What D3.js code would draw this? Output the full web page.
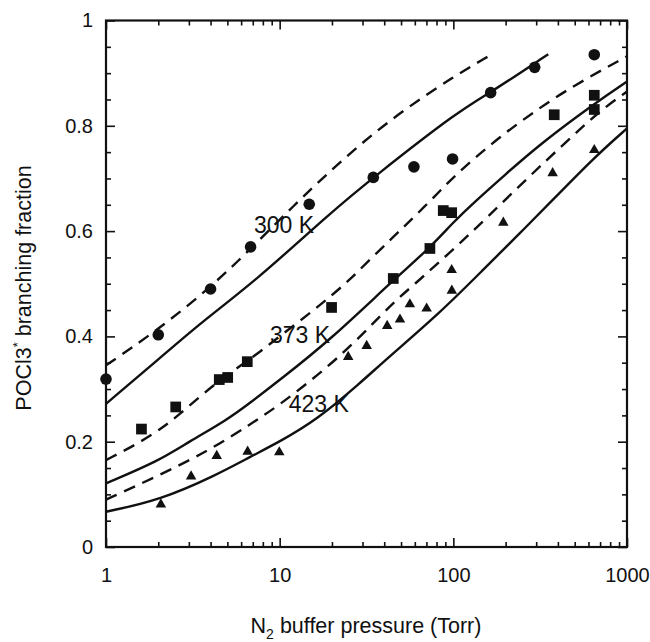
<!DOCTYPE html>
<html>
<head>
<meta charset="utf-8">
<script src="https://cdn.jsdelivr.net/npm/d3@7"></script>
<style>
  body { margin: 0; background: #fff; }
  svg { display: block; font-family: "Liberation Sans", Arial, sans-serif; }
</style>
</head>
<body>
<svg id="chart" width="650" height="642"></svg>
<script>
// measured points, [pressure (Torr), fraction]
const circles300 = [[1, 0.319], [2, 0.403], [4, 0.49], [6.8, 0.570], [14.8, 0.651], [34.6, 0.702],
  [59.3, 0.722], [99, 0.737], [164, 0.863], [294, 0.911], [648, 0.935]];
const squares373 = [[1.6, 0.224], [2.52, 0.266], [4.49, 0.318], [5.02, 0.322], [6.51, 0.352], [19.9, 0.455],
  [45.1, 0.510], [73.3, 0.567], [87.5, 0.639], [97.8, 0.635], [381, 0.821], [648, 0.858], [648, 0.831]];
const triangles423 = [[2.07, 0.081], [3.09, 0.134], [4.34, 0.173], [6.54, 0.181], [9.95, 0.180], [24.8, 0.361],
  [31.7, 0.382], [41.6, 0.420], [49.3, 0.432], [56.2, 0.461], [70.2, 0.453], [97.8, 0.526], [98, 0.487],
  [194, 0.616], [373, 0.710], [648, 0.754]];

// model curves (solid / dashed)
const solid300 = [[1, 0.272], [2, 0.356], [3.48, 0.425], [7.36, 0.507], [19.5, 0.634], [34.6, 0.702],
  [109, 0.830], [164, 0.863], [352, 0.936]];
const dash300 = [[1, 0.345], [2, 0.413], [4, 0.493], [6.8, 0.566], [12, 0.648], [19.5, 0.714], [32.4, 0.778],
  [55, 0.836], [100, 0.893], [161, 0.933]];
const solid373 = [[1, 0.121], [2, 0.163], [3, 0.2], [4.95, 0.241], [6.7, 0.273], [10, 0.317], [19.5, 0.393],
  [45.1, 0.507], [73.3, 0.568], [100, 0.617], [130, 0.653], [200, 0.708], [315, 0.765], [648, 0.842],
  [1000, 0.884]];
const dash373 = [[1, 0.165], [1.6, 0.2], [2.14, 0.228], [2.55, 0.247], [4.5, 0.318], [6.5, 0.352], [10, 0.40],
  [14.9, 0.444], [19.5, 0.475], [25.4, 0.508], [32.4, 0.543], [43.2, 0.583], [53.8, 0.613], [70, 0.65],
  [90, 0.687], [114, 0.72], [185, 0.779], [301, 0.830], [490, 0.876], [1000, 0.932]];
const solid423 = [[1, 0.067], [2.05, 0.089], [4.34, 0.137], [6.74, 0.171], [10, 0.2], [16.3, 0.241],
  [29, 0.311], [41.2, 0.357], [84, 0.445], [150, 0.528], [240, 0.595], [376, 0.66], [648, 0.74],
  [1000, 0.795]];
const dash423 = [[1, 0.09], [2, 0.135], [4, 0.185], [6.7, 0.232], [10, 0.27], [16.4, 0.325], [26.7, 0.386],
  [44.2, 0.462], [57.5, 0.494], [100, 0.565], [158, 0.627], [266, 0.70], [445, 0.769], [707, 0.83],
  [1000, 0.865]];

const curveLabels = [["300 K", 10.6, 0.596], ["373 K", 13.1, 0.387], ["423 K", 16.8, 0.256]];

const xMajor = [1, 10, 100, 1000];
const yMajor = [0, 0.2, 0.4, 0.6, 0.8, 1];

const svg = d3.select('#chart');
const x = d3.scaleLog().domain([1, 1000]).range([106, 627]);
const y = d3.scaleLinear().domain([0, 1]).range([547, 20.5]);

// minor ticks
const xMinor = [];
[1, 10, 100].forEach(dec => { for (let k = 2; k <= 9; k++) xMinor.push(dec * k); });
const yMinor = d3.range(0, 1.0001, 0.05).filter(v => !yMajor.some(m => Math.abs(m - v) < 1e-6));

function styleAxis(g) {
  g.select('.domain').remove();
  g.selectAll('line').attr('stroke', '#111').attr('stroke-width', 1.6);
  g.selectAll('text').attr('fill', '#111').attr('font-size', 20);
}

// bottom
svg.append('g').attr('transform', 'translate(0,547)')
  .call(d3.axisBottom(x).tickValues(xMajor).tickSize(-9).tickPadding(21).tickFormat(d3.format('d')))
  .call(styleAxis);
svg.append('g').attr('transform', 'translate(0,547)')
  .call(d3.axisBottom(x).tickValues(xMinor).tickSize(-5).tickFormat(''))
  .call(styleAxis);
// top
svg.append('g').attr('transform', 'translate(0,20.5)')
  .call(d3.axisTop(x).tickValues(xMajor).tickSize(-9).tickFormat(''))
  .call(styleAxis);
svg.append('g').attr('transform', 'translate(0,20.5)')
  .call(d3.axisTop(x).tickValues(xMinor).tickSize(-5).tickFormat(''))
  .call(styleAxis);
// left
svg.append('g').attr('transform', 'translate(106,0)')
  .call(d3.axisLeft(y).tickValues(yMajor).tickSize(-9).tickPadding(13).tickFormat(d3.format('~g')))
  .call(styleAxis);
svg.append('g').attr('transform', 'translate(106,0)')
  .call(d3.axisLeft(y).tickValues(yMinor).tickSize(-5).tickFormat(''))
  .call(styleAxis);
// right
svg.append('g').attr('transform', 'translate(627,0)')
  .call(d3.axisRight(y).tickValues(yMajor).tickSize(-9).tickFormat(''))
  .call(styleAxis);
svg.append('g').attr('transform', 'translate(627,0)')
  .call(d3.axisRight(y).tickValues(yMinor).tickSize(-5).tickFormat(''))
  .call(styleAxis);

// frame
svg.append('rect')
  .attr('x', x(1)).attr('y', y(1))
  .attr('width', x(1000) - x(1)).attr('height', y(0) - y(1))
  .attr('fill', 'none').attr('stroke', '#111').attr('stroke-width', 2.2);

// curves
const line = d3.line().x(d => x(d[0])).y(d => y(d[1])).curve(d3.curveBasis);
const curves = [
  [solid300, null], [dash300, '12,8'],
  [solid373, null], [dash373, '12,8'],
  [solid423, null], [dash423, '12,8'],
];
svg.append('g').selectAll('path')
  .data(curves)
  .enter()
  .append('path')
  .attr('d', d => line(d[0]))
  .attr('fill', 'none')
  .attr('stroke', '#111')
  .attr('stroke-width', 2.4)
  .attr('stroke-dasharray', d => d[1]);

// markers
const marks = svg.append('g').attr('fill', '#111');
marks.selectAll('circle')
  .data(circles300)
  .enter()
  .append('circle')
  .attr('cx', d => x(d[0])).attr('cy', d => y(d[1])).attr('r', 5.8);
marks.selectAll('path.sq')
  .data(squares373)
  .enter()
  .append('path').attr('class', 'sq')
  .attr('d', d3.symbol(d3.symbolSquare, 115))
  .attr('transform', d => 'translate(' + x(d[0]) + ',' + y(d[1]) + ')');
marks.selectAll('path.tri')
  .data(triangles423)
  .enter()
  .append('path').attr('class', 'tri')
  .attr('d', d3.symbol(d3.symbolTriangle, 48))
  .attr('transform', d => 'translate(' + x(d[0]) + ',' + y(d[1]) + ')');

// temperature labels
svg.append('g').selectAll('text')
  .data(curveLabels)
  .enter()
  .append('text')
  .attr('x', d => x(d[1])).attr('y', d => y(d[2]))
  .attr('text-anchor', 'middle')
  .attr('font-size', 23)
  .attr('fill', '#111')
  .text(d => d[0]);

// axis titles
const xt = svg.append('text')
  .attr('x', 366).attr('y', 633)
  .attr('text-anchor', 'middle')
  .attr('font-size', 21.5)
  .attr('fill', '#111');
xt.append('tspan').text('N');
xt.append('tspan').attr('font-size', 14).attr('dy', 6).text('2');
xt.append('tspan').attr('dy', -6).text(' buffer pressure (Torr)');

const yt = svg.append('text')
  .attr('transform', 'translate(31,288) rotate(-90)')
  .attr('text-anchor', 'middle')
  .attr('font-size', 21.5)
  .attr('fill', '#111');
yt.append('tspan').text('POCl3');
yt.append('tspan').attr('font-size', 13).attr('dy', -9).text('*');
yt.append('tspan').attr('dy', 9).text(' branching fraction');
</script>
</body>
</html>
